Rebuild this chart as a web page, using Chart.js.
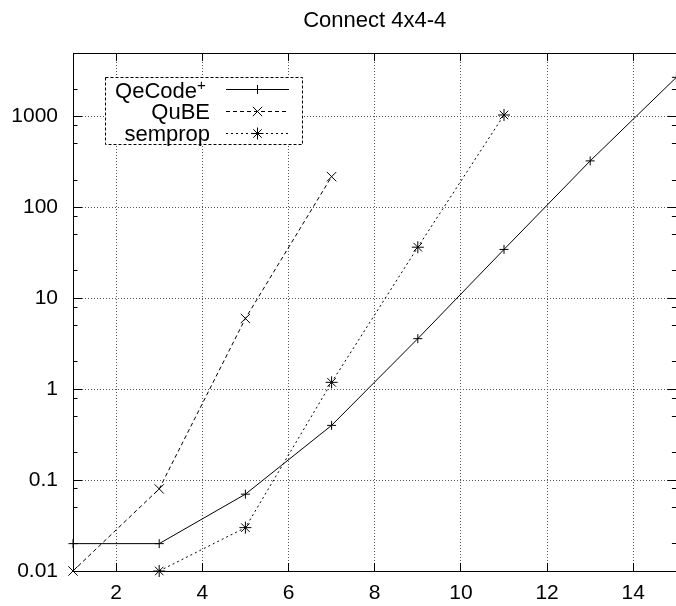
<!DOCTYPE html>
<html><head><meta charset="utf-8">
<script src="https://cdn.jsdelivr.net/npm/chart.js@4.4.0/dist/chart.umd.min.js"></script>
<style>html,body{margin:0;padding:0;overflow:hidden;background:#fff;width:676px;height:606px}canvas{display:block}</style>
</head><body>
<canvas id="c" width="684" height="606"></canvas>
<script>
const chartTitle = 'Connect 4x4-4';
const xTicks = [2, 4, 6, 8, 10, 12, 14];
const yTicks = [0.01, 0.1, 1, 10, 100, 1000];
const yTickLabels = ['0.01', '0.1', '1', '10', '100', '1000'];
const yMinorFactors = [2, 5, 8];
const seriesNames = ['QeCode', 'QuBE', 'semprop'];
const qecodeX = [1, 3, 5, 7, 9, 11, 13, 15];
const qecodeY = [0.02, 0.02, 0.07, 0.4, 3.6, 34.5, 325, 2700];
const qubeX = [1, 3, 5, 7];
const qubeY = [0.01, 0.08, 6, 218];
const sempropX = [3, 5, 7, 9, 11];
const sempropY = [0.01, 0.03, 1.19, 36.5, 1040];

const FONT = '"Liberation Sans", Arial, Helvetica, sans-serif';
const pts = (xs, ys) => xs.map((v, i) => ({x: v, y: ys[i]}));
const styles = [
  {pointStyle: 'cross', radius: 4.5, dash: []},
  {pointStyle: 'crossRot', radius: 6.6, dash: [4, 3]},
  {pointStyle: 'star', radius: 6, dash: [2, 3]}
];
const seriesData = [pts(qecodeX, qecodeY), pts(qubeX, qubeY), pts(sempropX, sempropY)];

const datasets = seriesData.map((d, i) => ({
  label: seriesNames[i], data: d,
  borderColor: '#000', borderWidth: 1, borderDash: styles[i].dash,
  pointStyle: styles[i].pointStyle, pointRadius: styles[i].radius, pointHoverRadius: styles[i].radius,
  pointBorderColor: '#000', pointBorderWidth: 1, pointBackgroundColor: 'rgba(0,0,0,0)',
  fill: false, tension: 0, clip: false
}));

const align = p => Math.round(p - 0.5) + 0.5;

const deco = {
  id: 'deco',
  afterDraw(chart) {
    const ctx = chart.ctx, a = chart.chartArea;
    const xs = chart.scales.x, ys = chart.scales.y;
    ctx.save();
    ctx.strokeStyle = '#000'; ctx.lineWidth = 1; ctx.setLineDash([]);
    ctx.beginPath();
    xTicks.forEach(v => {
      const px = align(xs.getPixelForValue(v));
      ctx.moveTo(px, a.bottom); ctx.lineTo(px, a.bottom - 8);
      ctx.moveTo(px, a.top); ctx.lineTo(px, a.top + 8);
    });
    yTicks.forEach(v => {
      const py = align(ys.getPixelForValue(v));
      ctx.moveTo(a.left, py); ctx.lineTo(a.left + 9, py);
      ctx.moveTo(a.right, py); ctx.lineTo(a.right - 9, py);
      yMinorFactors.forEach(f => {
        const mv = v * f;
        if (mv < ys.max) {
          const my = align(ys.getPixelForValue(mv));
          ctx.moveTo(a.left, my); ctx.lineTo(a.left + 4.5, my);
          ctx.moveTo(a.right, my); ctx.lineTo(a.right - 4.5, my);
        }
      });
    });
    ctx.stroke();
    // frame
    const l = align(a.left), t = align(a.top), r = align(a.right), b = align(a.bottom);
    ctx.strokeRect(l, t, r - l, b - t);
    // title
    ctx.fillStyle = '#000';
    ctx.font = '22px ' + FONT;
    ctx.textAlign = 'center'; ctx.textBaseline = 'alphabetic';
    ctx.fillText(chartTitle, (a.left + a.right) / 2, 27);
    // legend
    const box = {x: 105.5, y: 77.5, w: 197, h: 67};
    ctx.fillStyle = '#fff';
    ctx.fillRect(box.x, box.y, box.w, box.h);
    ctx.setLineDash([3, 2]);
    ctx.strokeRect(box.x, box.y, box.w, box.h);
    const rowsLine = [89.5, 111.5, 133.5];
    const rowsBase = [97.5, 119, 140.5];
    ctx.fillStyle = '#000';
    ctx.textAlign = 'right';
    ctx.font = '22px ' + FONT;
    for (let i = 0; i < 3; i++) {
      if (i === 0) {
        ctx.font = '22px ' + FONT;
        ctx.fillText(seriesNames[0], 197, rowsBase[0]);
        ctx.font = '15px ' + FONT;
        ctx.textAlign = 'left';
        ctx.fillText('+', 197, 89.5);
        ctx.textAlign = 'right';
        ctx.font = '22px ' + FONT;
      } else {
        ctx.fillText(seriesNames[i], 210, rowsBase[i]);
      }
      ctx.setLineDash(styles[i].dash);
      ctx.beginPath();
      ctx.moveTo(226, rowsLine[i]); ctx.lineTo(289, rowsLine[i]);
      ctx.stroke();
      ctx.setLineDash([]);
      Chart.helpers.drawPoint(ctx, {pointStyle: styles[i].pointStyle, radius: styles[i].radius, rotation: 0, borderWidth: 1}, 257.5, rowsLine[i]);
    }
    ctx.restore();
  }
};

const gridOpts = {color: '#555', lineWidth: 1, drawTicks: false};
new Chart(document.getElementById('c'), {
  type: 'line',
  data: {datasets},
  options: {
    responsive: false, animation: false, devicePixelRatio: 1,
    layout: {padding: {top: 53, right: 2, left: 0, bottom: 0}},
    plugins: {legend: {display: false}, tooltip: {enabled: false}, title: {display: false}},
    scales: {
      x: {
        type: 'linear', min: 1, max: 15,
        afterBuildTicks(s) { s.ticks = xTicks.map(v => ({value: v})); },
        afterFit(s) { s.height = 35; },
        grid: gridOpts, border: {display: false, dash: [1, 2]},
        ticks: {color: '#000', font: {family: FONT, size: 21}, padding: 10, maxRotation: 0, autoSkip: false,
          callback: v => String(v)}
      },
      y: {
        type: 'logarithmic', min: 0.01, max: 5000,
        afterBuildTicks(s) { s.ticks = yTicks.map(v => ({value: v})); },
        afterFit(s) { s.width = 73; },
        grid: gridOpts, border: {display: false, dash: [1, 2]},
        ticks: {color: '#000', font: {family: FONT, size: 21}, padding: 15, autoSkip: false,
          callback: v => { const k = yTicks.indexOf(v); return k >= 0 ? yTickLabels[k] : ''; }}
      }
    }
  },
  plugins: [deco]
});
</script>
</body></html>
